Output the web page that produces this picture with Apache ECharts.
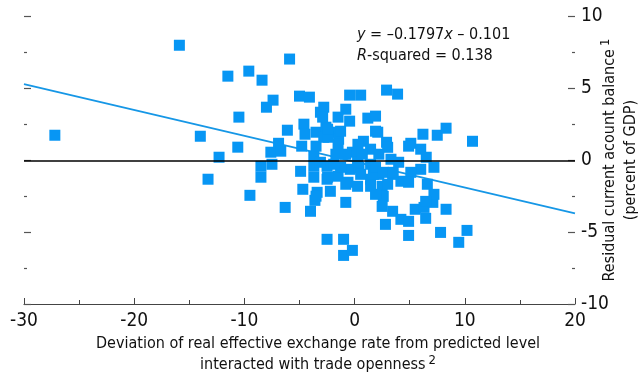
<!DOCTYPE html>
<html>
<head>
<meta charset="utf-8">
<script src="https://cdn.jsdelivr.net/npm/echarts@6/dist/echarts.min.js"></script>
<style>
  html, body { margin: 0; padding: 0; background: #fff; }
  #chart { width: 640px; height: 380px; }
</style>
</head>
<body>
<div id="chart"></div>
<script>
const FONT = "'Liberation Sans Narrow', 'DejaVu Sans Condensed', 'Roboto', sans-serif";

// scatter points: [deviation, residual CA balance]
const points = [
  [-27.2, 1.74], [-15.9, 8.0], [-14.0, 1.67], [-12.3, 0.21], [-13.3, -1.32],
  [-10.6, 0.91], [-9.5, -2.44], [-11.5, 5.85], [-9.6, 6.2], [-8.4, 5.57],
  [-5.9, 7.04], [-10.5, 3.0], [-8.0, 3.69], [-7.4, 4.18], [-5.0, 4.46],
  [-4.1, 4.39], [-6.1, 2.09], [-4.6, 2.51], [-4.5, 1.81], [-4.8, 0.98],
  [-6.9, 1.18], [-7.6, 0.56], [-6.7, 0.63], [-8.5, -0.42], [-7.5, -0.28],
  [-8.5, -1.18], [-4.9, -0.77], [-3.7, -0.42], [-3.7, -1.18], [-3.7, 0.28],
  [-3.5, 0.98], [-3.1, 3.34], [-2.8, 3.69], [-3.5, 1.95], [-4.7, -2.02],
  [-3.4, -2.23], [-3.6, -2.79], [-2.5, -1.32], [-6.3, -3.28], [-4.0, -3.55],
  [-2.5, -5.5], [-0.45, 4.53], [0.55, 4.53], [2.9, 4.88], [3.9, 4.6],
  [-0.8, 3.55], [-0.45, 2.72], [1.2, 2.93], [1.9, 3.07], [-1.5, 3.0],
  [-2.6, 2.3], [-1.9, 1.95], [-1.45, 1.46], [-2.8, 1.6], [2.1, 1.95],
  [2.9, 1.25], [3.0, 0.9], [0.8, 1.32], [0.3, 1.11], [-0.2, 0.56],
  [1.45, 0.77], [5.1, 1.18], [6.2, 1.81], [7.5, 1.74], [8.3, 2.23],
  [10.7, 1.32], [6.0, 0.77], [6.5, 0.21], [4.9, 0.98], [-2.5, -0.42],
  [-1.5, -1.11], [-2.2, -2.16], [-0.8, -2.93], [-0.4, -0.63], [-0.6, -1.53],
  [0.4, -0.49], [1.45, -1.32], [1.45, -1.81], [2.5, -1.81], [2.6, -2.51],
  [2.5, -3.21], [3.45, -3.55], [2.8, -4.46], [4.2, -4.11], [4.9, -4.25],
  [5.5, -3.41], [6.3, -3.28], [6.45, -4.04], [7.1, -2.93], [7.2, -2.37],
  [8.3, -3.41], [6.6, -1.67], [7.2, -0.49], [6.0, -0.63], [5.1, -0.84],
  [4.2, -1.46], [4.9, -1.53], [3.45, -0.98], [2.2, -0.98], [3.0, -1.67],
  [7.8, -5.02], [10.2, -4.88], [4.9, -5.23], [-1.0, -5.5], [-1.0, -6.62],
  [-0.2, -6.27], [9.45, -5.71], [-2.9, 3.0], [1.9, 2.02], [-2.4, 1.6],
  [-1.5, 1.11], [-2.45, -1.18], [-1.27, -0.49], [0.55, -0.98], [1.7, -0.98],
  [-3.5, -2.5], [-0.8, -1.67], [0.27, -1.81], [1.9, -2.37], [-3.1, -0.14],
  [-1.9, -0.28], [0.27, -0.14], [1.45, -0.28], [-2.45, 2.16], [-1.27, 2.02],
  [1.9, -0.49], [2.6, -0.84], [3.5, -0.84], [6.45, -2.86], [-1.7, 0.42],
  [0.7, 0.42], [2.2, 0.42], [3.3, 0.07], [4.0, -0.14], [-0.8, 0.42]
];

// fitted line as printed on the chart
const slope = -0.1797;
const intercept = -0.101;
const fitX = [-30, 20];
const fitLine = fitX.map(x => [x, slope * x + intercept]);

const xTicks = [-30, -20, -10, 0, 10, 20];
const yTicks = [-10, -5, 0, 5, 10];

const chart = echarts.init(document.getElementById('chart'));

function yAxisOpt(position, showLabels) {
  return {
    type: 'value',
    position: position,
    min: yTicks[0], max: yTicks[yTicks.length - 1], interval: 5,
    axisLine: { show: true, onZero: false, lineStyle: { color: 'rgba(0,0,0,0)' } },
    axisTick: { show: true, inside: true, length: 7, lineStyle: { color: '#555', width: 1.2 } },
    minorTick: { show: true, splitNumber: 2, length: 3, lineStyle: { color: '#555', width: 1.2 } },
    splitLine: { show: false },
    axisLabel: { show: showLabels, fontFamily: FONT, fontSize: 19, color: '#111', margin: 6 }
  };
}

chart.setOption({
  animation: false,
  grid: { left: 24, right: 65, top: 16.5, bottom: 76 },
  xAxis: {
    type: 'value',
    min: xTicks[0], max: xTicks[xTicks.length - 1], interval: 10,
    axisLine: { show: true, onZero: false, lineStyle: { color: '#444', width: 1.2 } },
    axisTick: { show: true, inside: true, length: 6, lineStyle: { color: '#444' } },
    minorTick: { show: true, splitNumber: 2, length: 4, lineStyle: { color: '#444' } },
    splitLine: { show: false },
    axisLabel: { fontFamily: FONT, fontSize: 19, color: '#111', margin: 8 }
  },
  yAxis: [yAxisOpt('right', true), yAxisOpt('left', false)],
  series: [
    {
      type: 'line',
      data: fitLine,
      showSymbol: false,
      lineStyle: { color: '#1697e6', width: 1.8 },
      z: 1
    },
    {
      type: 'scatter',
      data: points,
      symbol: 'rect',
      symbolSize: 11,
      itemStyle: { color: '#0796f4', opacity: 1 },
      z: 2
    },
    {
      type: 'line',
      data: [],
      z: 3,
      markLine: {
        silent: true,
        symbol: 'none',
        label: { show: false },
        lineStyle: { color: '#000', width: 1.5, type: 'solid' },
        data: [{ yAxis: 0 }]
      }
    }
  ],
  graphic: [
    {
      type: 'text', left: 357, top: 24,
      style: {
        text: '{i|y} = –0.1797{i|x} – 0.101\n{i|R}-squared = 0.138',
        font: '16px ' + FONT, fill: '#111', lineHeight: 21,
        rich: {
          i: { fontStyle: 'italic', fontFamily: FONT, fontSize: 16, fill: '#111' }
        }
      }
    },
    {
      type: 'text', x: 318, y: 333,
      style: {
        text: 'Deviation of real effective exchange rate from predicted level\ninteracted with trade openness{s|2}',
        font: '16px ' + FONT, fill: '#111', align: 'center', lineHeight: 21,
        rich: { s: { fontFamily: FONT, fontSize: 13, fill: '#111', verticalAlign: 'top', padding: [0, 0, 6, 3] } }
      }
    },
    {
      type: 'text', x: 620, y: 160, rotation: Math.PI / 2,
      style: {
        text: 'Residual current acount balance{s|1}\n(percent of GDP)',
        font: '16px ' + FONT, fill: '#111', align: 'center', verticalAlign: 'middle', lineHeight: 21,
        rich: { s: { fontFamily: FONT, fontSize: 13, fill: '#111', verticalAlign: 'top', padding: [0, 0, 6, 3] } }
      }
    }
  ]
});
</script>
</body>
</html>
